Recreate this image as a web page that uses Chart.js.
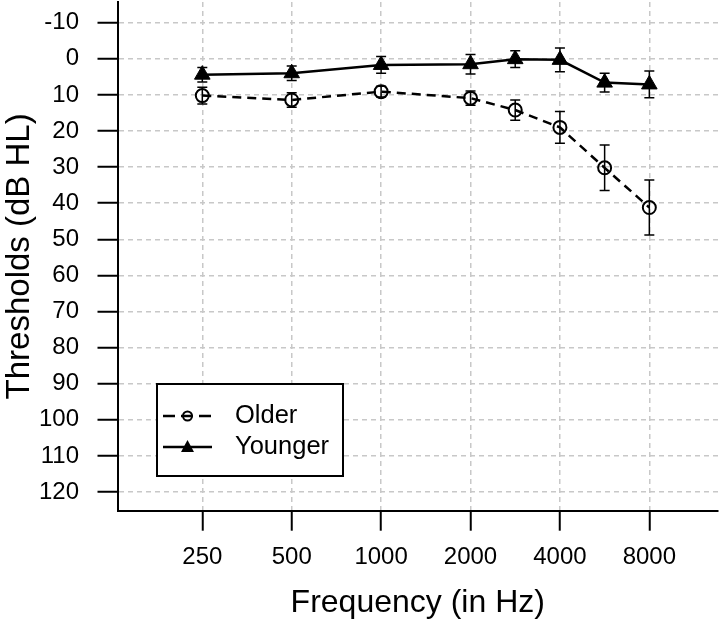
<!DOCTYPE html>
<html>
<head>
<meta charset="utf-8">
<script src="https://cdn.jsdelivr.net/npm/chart.js@4"></script>
<style>
  body { margin: 0; background: #fff; }
  #wrap { width: 720px; height: 622px; }
</style>
</head>
<body>
<div id="wrap"><canvas id="audiogram"></canvas></div>
<script>
// frequencies and their place on the audiogram axis (octaves, inter-octaves halfway)
const freqs = [250, 500, 1000, 2000, 3000, 4000, 6000, 8000];
const freqPos = [0, 1, 2, 3, 3.5, 4, 4.5, 5];
const xTickPos = [0, 1, 2, 3, 4, 5];
const xTickLabels = ['250', '500', '1000', '2000', '4000', '8000'];
const yTicks = [-10, 0, 10, 20, 30, 40, 50, 60, 70, 80, 90, 100, 110, 120];

const olderMean = [10.2, 11.4, 9.1, 10.9, 14.2, 19.0, 30.2, 41.2];
const olderErr = [2.3, 2.0, 1.5, 2.0, 2.8, 4.4, 6.3, 7.6];
const youngerMean = [4.4, 4.0, 1.7, 1.5, 0.1, 0.3, 6.6, 7.1];
const youngerErr = [2.0, 2.0, 2.3, 2.7, 2.3, 3.3, 2.6, 3.7];

const FONT = "'Liberation Sans', Arial, sans-serif";

function points(means) {
  return freqPos.map((p, i) => ({ x: p, y: means[i] }));
}

const errorBars = {
  id: 'errorBars',
  afterDatasetsDraw(chart) {
    const { ctx, scales: { x, y } } = chart;
    const errs = [olderErr, youngerErr];
    ctx.save();
    ctx.strokeStyle = '#000';
    ctx.lineWidth = 1.5;
    ctx.setLineDash([]);
    chart.data.datasets.forEach((ds, d) => {
      ds.data.forEach((pt, i) => {
        const px = x.getPixelForValue(pt.x);
        const y1 = y.getPixelForValue(pt.y - errs[d][i]);
        const y2 = y.getPixelForValue(pt.y + errs[d][i]);
        ctx.beginPath();
        ctx.moveTo(px, y1); ctx.lineTo(px, y2);
        ctx.moveTo(px - 5, y1); ctx.lineTo(px + 5, y1);
        ctx.moveTo(px - 5, y2); ctx.lineTo(px + 5, y2);
        ctx.stroke();
      });
    });
    ctx.restore();
  }
};

const boxLegend = {
  id: 'boxLegend',
  afterDraw(chart) {
    const ctx = chart.ctx;
    ctx.save();
    ctx.fillStyle = '#fff';
    ctx.fillRect(157, 384, 186, 92);
    ctx.strokeStyle = '#000';
    ctx.lineWidth = 2;
    ctx.strokeRect(157, 384, 186, 92);

    // Older: dashed line with open circle
    ctx.lineWidth = 2.5;
    ctx.setLineDash([12, 6]);
    ctx.beginPath();
    ctx.moveTo(163, 416); ctx.lineTo(212, 416);
    ctx.stroke();
    ctx.setLineDash([]);
    ctx.lineWidth = 2;
    ctx.beginPath();
    ctx.arc(187.5, 416, 4.5, 0, Math.PI * 2);
    ctx.stroke();

    // Younger: solid line with filled triangle
    ctx.lineWidth = 2.5;
    ctx.beginPath();
    ctx.moveTo(163, 447); ctx.lineTo(212, 447);
    ctx.stroke();
    ctx.fillStyle = '#000';
    ctx.beginPath();
    ctx.moveTo(187.5, 440);
    ctx.lineTo(194, 452);
    ctx.lineTo(181, 452);
    ctx.closePath();
    ctx.fill();

    ctx.font = '25.5px ' + FONT;
    ctx.textBaseline = 'middle';
    ctx.textAlign = 'left';
    ctx.fillText('Older', 235, 416);
    ctx.fillText('Younger', 235, 447);
    ctx.restore();
  }
};

new Chart(document.getElementById('audiogram'), {
  type: 'line',
  data: {
    datasets: [
      {
        label: 'Older',
        data: points(olderMean),
        borderColor: '#000',
        borderWidth: 2.5,
        borderDash: [9, 6],
        pointStyle: 'circle',
        pointRadius: 6.5,
        pointBorderWidth: 2,
        pointBorderColor: '#000',
        pointBackgroundColor: 'rgba(0,0,0,0)',
        tension: 0
      },
      {
        label: 'Younger',
        data: points(youngerMean),
        borderColor: '#000',
        borderWidth: 2.5,
        pointStyle: 'triangle',
        pointRadius: 9,
        pointBorderWidth: 1,
        pointBorderColor: '#000',
        pointBackgroundColor: '#000',
        tension: 0
      }
    ]
  },
  options: {
    responsive: true,
    maintainAspectRatio: false,
    animation: false,
    layout: { autoPadding: false, padding: { top: 2, right: 2, left: 0, bottom: 0 } },
    plugins: {
      legend: { display: false },
      tooltip: { enabled: false }
    },
    scales: {
      x: {
        type: 'linear',
        min: -0.9485,
        max: 5.768,
        afterBuildTicks: s => { s.ticks = xTickPos.map(v => ({ value: v })); },
        afterFit: s => { s.height = 111.3; s.paddingLeft = 0; s.paddingRight = 0; },
        ticks: {
          callback: (v) => xTickLabels[xTickPos.indexOf(v)],
          font: { family: FONT, size: 24 },
          color: '#000',
          padding: 12.5,
          maxRotation: 0
        },
        grid: {
          color: '#c8c8c8',
          lineWidth: 1.5,
          tickColor: '#000',
          tickWidth: 2,
          tickLength: 20
        },
        border: { display: true, color: '#000', width: 2, dash: [5, 4] },
        title: {
          display: true,
          text: 'Frequency (in Hz)',
          font: { family: FONT, size: 32 },
          color: '#000',
          padding: { top: 0, bottom: 0 }
        }
      },
      y: {
        type: 'linear',
        reverse: true,
        min: -15.73,
        max: 125.18,
        afterBuildTicks: s => { s.ticks = yTicks.map(v => ({ value: v })); },
        afterFit: s => { s.width = 117.5; s.paddingTop = 0; s.paddingBottom = 0; },
        ticks: {
          callback: v => String(v),
          font: { family: FONT, size: 24 },
          color: '#000',
          padding: 18.5
        },
        grid: {
          color: '#c8c8c8',
          lineWidth: 1.5,
          tickColor: '#000',
          tickWidth: 2,
          tickLength: 20
        },
        border: { display: true, color: '#000', width: 2, dash: [5, 4] },
        title: {
          display: true,
          text: 'Thresholds (dB HL)',
          font: { family: FONT, size: 33 },
          color: '#000',
          padding: { top: 0, bottom: 0 }
        }
      }
    }
  },
  plugins: [errorBars, boxLegend]
});
</script>
</body>
</html>
